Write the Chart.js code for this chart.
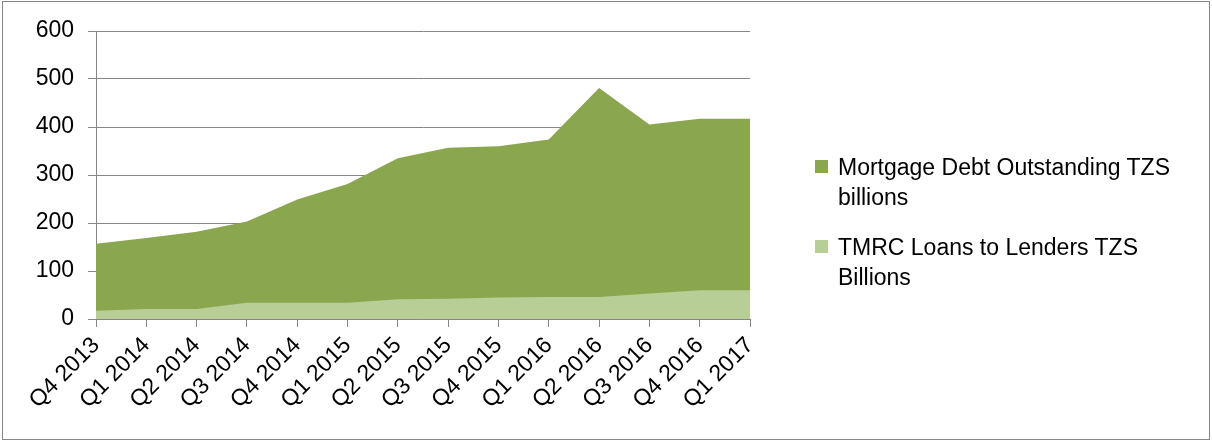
<!DOCTYPE html>
<html lang="en">
<head>
    <meta charset="UTF-8" />
    <title>Mortgage Debt vs TMRC Loans</title>
    <script src="https://cdn.jsdelivr.net/npm/chart.js"></script>
    <style>
        body { margin: 0; background: #fff; font-family: 'Liberation Sans', Arial, sans-serif; }
        #wrap { position: relative; width: 1212px; height: 441px; }
        #legend { position: absolute; left: 815px; top: 0; }
        .item { position: absolute; left: 0; width: 390px; }
        .item .box { position: absolute; left: 0; top: 8px; width: 13px; height: 13px; }
        .item .txt { margin-left: 23px; width: 365px; font-size: 23px; line-height: 30px; color: #000; }
    </style>
</head>
<body>
<div id="wrap">
    <canvas id="chart" width="1212" height="441"></canvas>
    <div id="legend"></div>
</div>
<script>
    const quarters = ['Q4 2013', 'Q1 2014', 'Q2 2014', 'Q3 2014', 'Q4 2014', 'Q1 2015', 'Q2 2015',
        'Q3 2015', 'Q4 2015', 'Q1 2016', 'Q2 2016', 'Q3 2016', 'Q4 2016', 'Q1 2017'];
    const mortgageDebt = [157, 169, 182, 203, 249, 281, 335, 357, 360, 374, 481, 405, 417, 417];
    const tmrcLoans = [17, 21, 21, 34, 34, 34, 41, 42, 45, 46, 46, 53, 60, 60];
    const yTicks = [0, 100, 200, 300, 400, 500, 600];

    const frame = {
        id: 'frame',
        afterDraw(chart) {
            const ctx = chart.ctx;
            ctx.save();
            ctx.strokeStyle = '#868686';
            ctx.lineWidth = 1;
            ctx.strokeRect(2.5, 1.5, 1207, 438);
            ctx.restore();
        }
    };

    const chart = new Chart(document.getElementById('chart'), {
        type: 'line',
        data: {
            labels: quarters,
            datasets: [{
                label: 'Mortgage Debt Outstanding TZS billions',
                data: mortgageDebt,
                backgroundColor: '#8AA64F',
                borderWidth: 0,
                pointRadius: 0,
                fill: 'origin',
                order: 2
            }, {
                label: 'TMRC Loans to Lenders TZS Billions',
                data: tmrcLoans,
                backgroundColor: '#B8CE97',
                borderWidth: 0,
                pointRadius: 0,
                fill: 'origin',
                order: 1
            }]
        },
        options: {
            responsive: false,
            animation: false,
            layout: { padding: { left: 10, top: 31, right: 462, bottom: 0 } },
            plugins: { legend: { display: false }, tooltip: { enabled: false } },
            scales: {
                x: {
                    offset: false,
                    grid: { drawOnChartArea: false, drawTicks: true, tickLength: 8, color: '#868686' },
                    border: { color: '#868686' },
                    ticks: { color: '#000', font: { family: "'Liberation Sans', Arial", size: 23 },
                        maxRotation: 45, minRotation: 45, padding: 5, autoSkip: false },
                    afterFit(s) { s.height = 441 - 319; }
                },
                y: {
                    min: 0, max: 600,
                    afterBuildTicks(s) { s.ticks = yTicks.map(v => ({ value: v })); },
                    grid: { color: '#868686', tickLength: 8 },
                    border: { color: '#868686' },
                    ticks: { color: '#000', font: { family: "'Liberation Sans', Arial", size: 23 }, padding: 14 },
                    afterFit(s) { s.width = 96 - 10; }
                }
            }
        },
        plugins: [frame]
    });

    // legend built from the datasets, listed in original order
    const legend = document.getElementById('legend');
    const tops = [152, 232];
    chart.data.datasets.forEach((ds, i) => {
        const item = document.createElement('div');
        item.className = 'item';
        item.style.top = tops[i] + 'px';
        item.innerHTML = '<div class="box" style="background:' + ds.backgroundColor + '"></div><div class="txt">' + ds.label + '</div>';
        legend.appendChild(item);
    });
</script>
</body>
</html>
